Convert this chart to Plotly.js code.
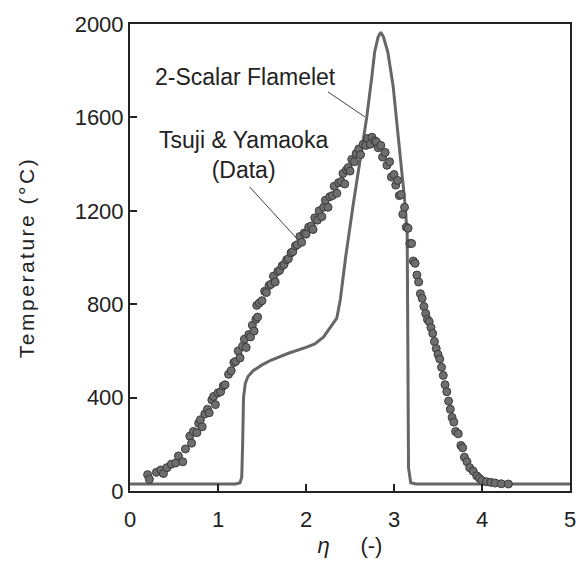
<!DOCTYPE html>
<html><head><meta charset="utf-8">
<script src="https://cdn.plot.ly/plotly-3.0.1.min.js"></script>
<style>html,body{margin:0;padding:0;background:#fff}</style>
</head><body><div id="chart" style="width:584px;height:565px"></div>
<script>
// Tsuji & Yamaoka measured data (eta, temperature °C)
const dataEta = [0.20,0.22,0.30,0.35,0.38,0.42,0.47,0.52,0.55,0.60,0.63,0.68,0.70,0.72,0.76,0.78,0.80,0.82,0.85,0.88,0.90,0.93,0.95,0.97,1.00,1.03,1.06,1.08,1.12,1.15,1.18,1.20,1.23,1.25,1.28,1.30,1.32,1.35,1.37,1.39,1.41,1.43,1.45,1.44,1.47,1.50,1.53,1.55,1.58,1.60,1.63,1.65,1.68,1.70,1.73,1.75,1.78,1.80,1.83,1.85,1.88,1.90,1.93,1.95,1.98,2.00,2.03,2.06,2.08,2.10,2.13,2.15,2.18,2.20,2.22,2.25,2.27,2.30,2.32,2.35,2.37,2.40,2.42,2.44,2.46,2.48,2.50,2.52,2.55,2.57,2.60,2.62,2.65,2.68,2.70,2.73,2.75,2.78,2.80,2.82,2.85,2.87,2.90,2.92,2.95,2.97,3.00,3.02,3.04,3.06,3.08,3.10,3.12,3.14,3.16,3.18,3.20,3.22,3.24,3.26,3.28,3.30,3.32,3.34,3.36,3.38,3.40,3.42,3.44,3.46,3.48,3.50,3.52,3.54,3.56,3.58,3.60,3.62,3.64,3.66,3.68,3.70,3.73,3.76,3.78,3.80,3.83,3.86,3.90,3.94,3.97,4.00,4.05,4.10,4.15,4.22,4.30];
const dataT = [70,50,80,90,75,100,115,120,150,125,180,235,205,255,250,290,305,275,330,350,335,390,405,370,420,425,450,455,500,515,550,555,600,570,620,650,615,670,660,710,685,735,745,795,805,815,855,850,880,885,920,895,940,945,965,970,990,995,1020,1025,1050,1055,1090,1065,1105,1100,1130,1135,1120,1170,1160,1200,1175,1215,1245,1215,1260,1265,1305,1275,1320,1325,1360,1315,1375,1385,1370,1420,1410,1445,1465,1440,1485,1480,1510,1485,1515,1500,1495,1470,1480,1430,1450,1395,1410,1345,1355,1310,1330,1265,1270,1185,1215,1130,1125,1060,1060,985,975,925,895,845,825,790,760,735,725,700,675,640,610,585,565,530,495,455,425,385,350,315,295,255,245,195,185,145,125,100,85,65,55,45,40,37,34,31,30];

// 2-Scalar Flamelet prediction
const flameEta = [0,1.20,1.25,1.27,1.28,1.29,1.31,1.34,1.40,1.50,1.60,1.80,2.00,2.10,2.20,2.30,2.35,2.39,2.45,2.54,2.62,2.69,2.75,2.78,2.82,2.85,2.88,2.93,2.99,3.03,3.08,3.12,3.15,3.155,3.16,3.165,3.19,3.25,5];
const flameT = [30,30,35,60,200,400,460,490,515,540,560,590,615,630,660,710,740,820,1000,1236,1420,1600,1780,1880,1945,1965,1945,1880,1734,1592,1400,1250,1100,800,300,100,35,30,30];

const xTicks = [0,1,2,3,4,5];
const yTicks = [0,400,800,1200,1600,2000];

const FONT = "Liberation Sans, Arial, sans-serif";

const traces = [
  {x: flameEta, y: flameT, mode: 'lines', line: {color: '#666666', width: 3}, hoverinfo: 'skip'},
  {x: dataEta, y: dataT, mode: 'markers',
   marker: {size: 8, color: '#6e6e6e', line: {color: '#3a3a3a', width: 1}}}
];

const layout = {
  width: 584, height: 565,
  margin: {l: 130, r: 14, t: 24, b: 74},
  paper_bgcolor: '#fff', plot_bgcolor: '#fff',
  showlegend: false,
  font: {family: FONT, color: '#222', size: 21},
  xaxis: {range: [0,5], tickvals: xTicks, ticktext: xTicks.map(String),
    ticks: 'inside', ticklen: 7, tickwidth: 2, tickcolor: '#222', ticklabelstandoff: 8,
    showline: true, linewidth: 2, linecolor: '#222', mirror: true, showgrid: false, zeroline: false,
    tickfont: {size: 22}, title: {text: '<i>η</i>     (-)', font: {size: 22}, standoff: 6}},
  yaxis: {range: [0,2000], tickvals: yTicks, ticktext: yTicks.map(String),
    ticks: 'inside', ticklen: 7, tickwidth: 2, tickcolor: '#222',
    showline: true, linewidth: 2, linecolor: '#222', mirror: true, showgrid: false, zeroline: false,
    tickfont: {size: 22}, title: {text: 'Temperature (°C)', font: {size: 21}, standoff: 34}},
  shapes: [
    {type: 'line', xref: 'x', yref: 'y', x0: 2.25, y0: 1709, x1: 2.67, y1: 1602, line: {color: '#444', width: 1}},
    {type: 'line', xref: 'x', yref: 'y', x0: 1.36, y0: 1302, x1: 1.91, y1: 1075, line: {color: '#444', width: 1}}
  ],
  annotations: [
    {x: 1.307, y: 1771, xref: 'x', yref: 'y', text: '2-Scalar Flamelet', showarrow: false, font: {size: 23, color: '#222'}},
    {x: 1.295, y: 1439, xref: 'x', yref: 'y', text: 'Tsuji & Yamaoka<br>(Data)', showarrow: false, font: {size: 23, color: '#222'}}
  ]
};

Plotly.newPlot('chart', traces, layout, {displayModeBar: false, staticPlot: true}).then(function () {
  document.querySelectorAll('.ytitle').forEach(function (e) { e.style.letterSpacing = '2.5px'; });
});
</script></body></html>
